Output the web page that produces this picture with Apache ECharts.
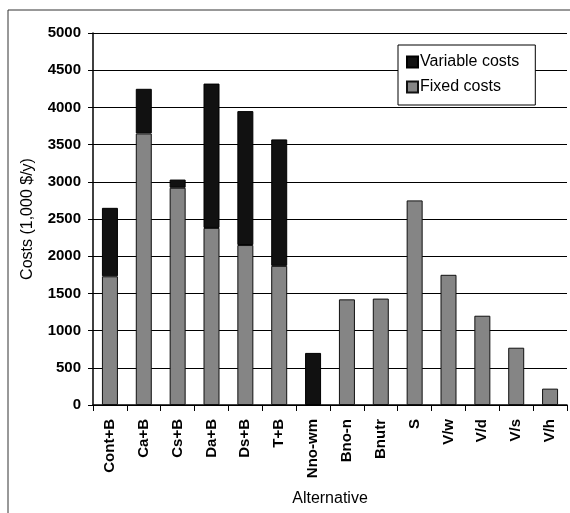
<!DOCTYPE html>
<html><head><meta charset="utf-8">
<script src="https://cdn.jsdelivr.net/npm/echarts@6/dist/echarts.min.js"></script>
<style>html,body{margin:0;padding:0;background:#fff;}#c{width:570px;height:513px;}</style>
</head><body><div id="c"></div>
<script>
var categories = ['Cont+B','Ca+B','Cs+B','Da+B','Ds+B','T+B','Nno-wm','Bno-n','Bnutr','S','V/w','V/d','V/s','V/h'];
var fixedCosts = [1730, 3650, 2920, 2380, 2150, 1870, null, 1420, 1430, 2750, 1750, 1200, 770, 220];
var variableCosts = [920, 600, 110, 1940, 1800, 1700, 700, null, null, null, null, null, null, null];
var yTicks = [0, 500, 1000, 1500, 2000, 2500, 3000, 3500, 4000, 4500, 5000];

var chart = echarts.init(document.getElementById('c'), null, {renderer: 'canvas'});
var font = 'Arial, "Liberation Sans", sans-serif';
chart.setOption({
  animation: false,
  backgroundColor: '#fff',
  graphic: [{
    type: 'polyline',
    shape: {points: [[8, 513], [8, 10], [570, 10]]},
    style: {stroke: '#333', lineWidth: 1, fill: null},
    silent: true
  }],
  grid: {left: 93, right: 3, top: 33, bottom: 108},
  legend: {
    orient: 'vertical',
    left: 398, top: 45,
    data: ['Variable costs', 'Fixed costs'],
    icon: 'rect',
    backgroundColor: '#fff',
    borderColor: '#000', borderWidth: 1,
    padding: [9, 16, 10, 8],
    itemGap: 9,
    itemWidth: 11, itemHeight: 11,
    textStyle: {fontFamily: font, fontSize: 16, color: '#000', padding: [0, 0, 0, -3]}
  },
  xAxis: {
    type: 'category',
    data: categories,
    name: 'Alternative',
    nameLocation: 'middle',
    nameGap: 86,
    nameTextStyle: {fontFamily: font, fontSize: 16, color: '#000'},
    axisLine: {lineStyle: {color: '#000', width: 1.5}},
    axisTick: {show: true, length: 6, alignWithLabel: false, lineStyle: {color: '#000'}},
    axisLabel: {rotate: 90, interval: 0, fontFamily: font, fontSize: 15, fontWeight: 'bold', color: '#000', margin: 14}
  },
  yAxis: {
    type: 'value',
    min: 0, max: 5000, interval: 500,
    name: 'Costs (1,000 $/y)',
    nameLocation: 'middle',
    nameGap: 57,
    nameTextStyle: {fontFamily: font, fontSize: 16, color: '#000'},
    axisLine: {show: true, lineStyle: {color: '#000', width: 1.5}},
    axisTick: {show: true, length: 5, lineStyle: {color: '#000'}},
    splitLine: {show: true, lineStyle: {color: '#000', width: 1.2}},
    axisLabel: {
      fontFamily: font, fontSize: 15, fontWeight: 'bold', color: '#000', margin: 12,
      formatter: function (v) { return yTicks.indexOf(v) >= 0 ? String(v) : ''; }
    }
  },
  series: [{
    name: 'Fixed costs',
    type: 'bar',
    stack: 'total',
    barWidth: 16,
    data: fixedCosts,
    itemStyle: {color: '#858585', borderColor: '#111', borderWidth: 1}
  }, {
    name: 'Variable costs',
    type: 'bar',
    stack: 'total',
    barWidth: 16,
    data: variableCosts,
    itemStyle: {color: '#111', borderColor: '#000', borderWidth: 1}
  }]
});
</script></body></html>
